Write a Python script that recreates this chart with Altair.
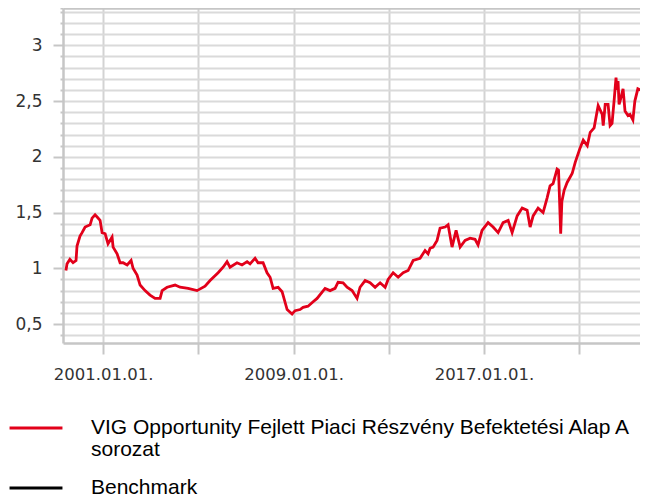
import altair as alt
import pandas as pd

FUND = "VIG Opportunity Fejlett Piaci Részvény Befektetési Alap A\nsorozat"
BENCH = "Benchmark"

dates = [
    "1999-06-10", "1999-06-27", "1999-08-10", "1999-09-27", "1999-11-12", "1999-11-27",
    "2000-01-12", "2000-02-13", "2000-03-30", "2000-06-15", "2000-07-15", "2000-08-30",
    "2000-10-01", "2000-11-15", "2000-12-16", "2001-02-01", "2001-03-17", "2001-05-18",
    "2001-06-03", "2001-08-03", "2001-09-18", "2001-11-03", "2002-01-04", "2002-03-06",
    "2002-04-05", "2002-06-06", "2002-07-22", "2002-10-06", "2002-12-22", "2003-03-09",
    "2003-05-25", "2003-06-25", "2003-09-09", "2004-01-10", "2004-03-27", "2004-07-28",
    "2004-12-12", "2005-04-14", "2005-06-30", "2005-10-31", "2006-01-16", "2006-03-17",
    "2006-05-02", "2006-08-17", "2006-11-02", "2007-01-19", "2007-03-05", "2007-05-21",
    "2007-07-06", "2007-09-21", "2007-11-21", "2008-01-07", "2008-02-22", "2008-05-09",
    "2008-07-09", "2008-09-24", "2008-12-09", "2009-01-25", "2009-04-11", "2009-05-27",
    "2009-08-11", "2009-10-28", "2009-12-28", "2010-04-29", "2010-07-15", "2010-09-30",
    "2010-11-15", "2011-01-31", "2011-04-02", "2011-06-18", "2011-09-02", "2011-10-18",
    "2012-01-04", "2012-03-20", "2012-06-05", "2012-08-21", "2012-11-06", "2012-12-22",
    "2013-03-09", "2013-05-25", "2013-08-10", "2013-10-25", "2014-01-10", "2014-04-26",
    "2014-07-12", "2014-08-27", "2014-09-27", "2014-11-12", "2015-01-12", "2015-02-27",
    "2015-05-15", "2015-06-30", "2015-08-30", "2015-10-31", "2016-01-01", "2016-03-17",
    "2016-06-02", "2016-08-17", "2016-10-02", "2016-12-02", "2017-03-05", "2017-05-21",
    "2017-08-06", "2017-10-21", "2018-01-07", "2018-03-09", "2018-05-25", "2018-08-10",
    "2018-10-25", "2018-12-10", "2019-01-25", "2019-04-11", "2019-06-27", "2019-08-27",
    "2019-10-12", "2019-11-27", "2020-01-28", "2020-02-19", "2020-03-23", "2020-04-10",
    "2020-05-15", "2020-06-30", "2020-09-15", "2020-11-01", "2021-01-15", "2021-03-04",
    "2021-05-05", "2021-06-19", "2021-08-18", "2021-10-19", "2021-12-20", "2022-01-05",
    "2022-02-04", "2022-03-20", "2022-04-20", "2022-05-20", "2022-06-20", "2022-07-20",
    "2022-08-05", "2022-08-20", "2022-09-05", "2022-09-20", "2022-11-05", "2022-12-05",
    "2023-01-20", "2023-02-20", "2023-04-05", "2023-05-05", "2023-06-20", "2023-09-05",
    "2023-10-20", "2023-11-05",
]

values = [
    0.98, 1.04, 1.08, 1.05, 1.07, 1.20,
    1.29, 1.32, 1.37, 1.39, 1.45, 1.48,
    1.46, 1.43, 1.32, 1.31, 1.22, 1.28,
    1.19, 1.13, 1.05, 1.05, 1.03, 1.07,
    1.00, 0.94, 0.85, 0.80, 0.76, 0.73,
    0.73, 0.80, 0.83, 0.85, 0.83, 0.82,
    0.80, 0.84, 0.89, 0.96, 1.01, 1.06,
    1.01, 1.05, 1.03, 1.06, 1.04, 1.09,
    1.05, 1.05, 0.96, 0.92, 0.82, 0.83,
    0.79, 0.63, 0.59, 0.62, 0.63, 0.65,
    0.66, 0.70, 0.73, 0.82, 0.80, 0.82,
    0.875, 0.87, 0.83, 0.80, 0.73, 0.83,
    0.89, 0.87, 0.83, 0.87, 0.83, 0.90,
    0.96, 0.92, 0.96, 0.98, 1.07, 1.09,
    1.16, 1.13, 1.18, 1.19, 1.25, 1.36,
    1.37, 1.39, 1.19, 1.34, 1.19, 1.25,
    1.27, 1.26, 1.21, 1.34, 1.41, 1.37,
    1.32, 1.41, 1.43, 1.32, 1.47, 1.54,
    1.52, 1.37, 1.47, 1.54, 1.50, 1.63,
    1.74, 1.76, 1.89, 1.88, 1.31, 1.60,
    1.70, 1.77, 1.85, 1.95, 2.08, 2.15,
    2.10, 2.22, 2.26, 2.46, 2.38, 2.28,
    2.47, 2.47, 2.28, 2.30, 2.50, 2.71,
    2.60, 2.68, 2.47, 2.50, 2.61, 2.41,
    2.37, 2.38, 2.33, 2.50, 2.61, 2.59,
    2.63, 2.55,
]

x_tick_years = [2001, 2005, 2009, 2013, 2017, 2021]
x_label_years = [2001, 2009, 2017]
x_domain = ["1999-04-26", "2023-07-23"]
y_domain = [0.33, 3.335]
y_grid = [0.4, 0.5, 0.6, 0.7, 0.8, 0.9, 1.0, 1.1, 1.2, 1.3, 1.4, 1.5, 1.6, 1.7, 1.8,
          1.9, 2.0, 2.1, 2.2, 2.3, 2.4, 2.5, 2.6, 2.7, 2.8, 2.9, 3.0, 3.1, 3.2, 3.3, 3.335]

df = pd.DataFrame({"date": dates, "value": values, "series": FUND})


def ms(s):
    return int(pd.Timestamp(s, tz="UTC").timestamp() * 1000)


tick_ms = [ms(f"{y}-01-01") for y in x_tick_years]
dom_ms = [ms(d) for d in x_domain]
label_years_js = "[" + ",".join(str(y) for y in x_label_years) + "]"

major_test = "abs(datum.value * 2 - round(datum.value * 2)) < 0.001"
top_test = "datum.value > 3.33"

chart = (
    alt.Chart(df)
    .mark_line(strokeWidth=2.8, clip=True)
    .encode(
        x=alt.X(
            "date:T",
            scale=alt.Scale(type="utc", domain=dom_ms),
            axis=alt.Axis(
                title=None,
                values=tick_ms,
                labelExpr=f"indexof({label_years_js}, utcyear(datum.value)) >= 0 ? utcFormat(datum.value, '%Y.%m.%d.') : ''",
                grid=True,
                gridColor="#d3d3d3",
                gridWidth=2,
                tickColor="#c6c6c6",
                tickWidth=2,
                tickSize=11,
                domainColor="#c6c6c6",
                domainWidth=2.5,
                labelFont="DejaVu Sans",
                labelFontSize=16.5,
                labelColor="#333333",
                labelPadding=12,
                labelOverlap=False,
                labelFlush=False,
            ),
        ),
        y=alt.Y(
            "value:Q",
            scale=alt.Scale(domain=y_domain, nice=False, zero=False),
            axis=alt.Axis(
                title=None,
                values=y_grid,
                labelExpr=f"{major_test} && datum.value < 3.33 ? replace(toString(datum.value), '.', ',') : ''",
                grid=True,
                gridColor={"condition": {"test": top_test, "value": "#c6c6c6"}, "value": "#dadada"},
                gridWidth={"condition": {"test": top_test, "value": 2.5}, "value": 1.8},
                tickColor="#c6c6c6",
                tickWidth=2,
                tickSize={"condition": {"test": major_test, "value": 10}, "value": 3},
                domainColor="#c6c6c6",
                domainWidth=2.5,
                labelFont="DejaVu Sans",
                labelFontSize=17,
                labelColor="#333333",
                labelPadding=11,
                labelOverlap=False,
                labelFlush=False,
            ),
        ),
        color=alt.Color(
            "series:N",
            scale=alt.Scale(domain=[FUND, BENCH], range=["#e2001a", "#000000"]),
            legend=alt.Legend(
                title=None,
                orient="none",
                legendX=-55,
                legendY=392,
                direction="vertical",
                symbolType="stroke",
                symbolSize=2800,
                symbolStrokeWidth=3,
                labelFont="Liberation Sans",
                labelFontSize=21,
                labelColor="#000000",
                labelExpr="split(datum.label, '\\n')",
                labelLimit=700,
                labelOffset=27,
                rowPadding=0,
            ),
        ),
    )
    .properties(
        width=577,
        height=335,
        padding={"left": 55, "top": 0, "right": 0, "bottom": 154},
        autosize=alt.AutoSizeParams(type="none"),
    )
    .configure(style={"guide-label": {"lineHeight": 21.5}})
    .configure_view(stroke=None)
)

chart.save("out.html", embed_options={"renderer": "svg", "actions": False})
